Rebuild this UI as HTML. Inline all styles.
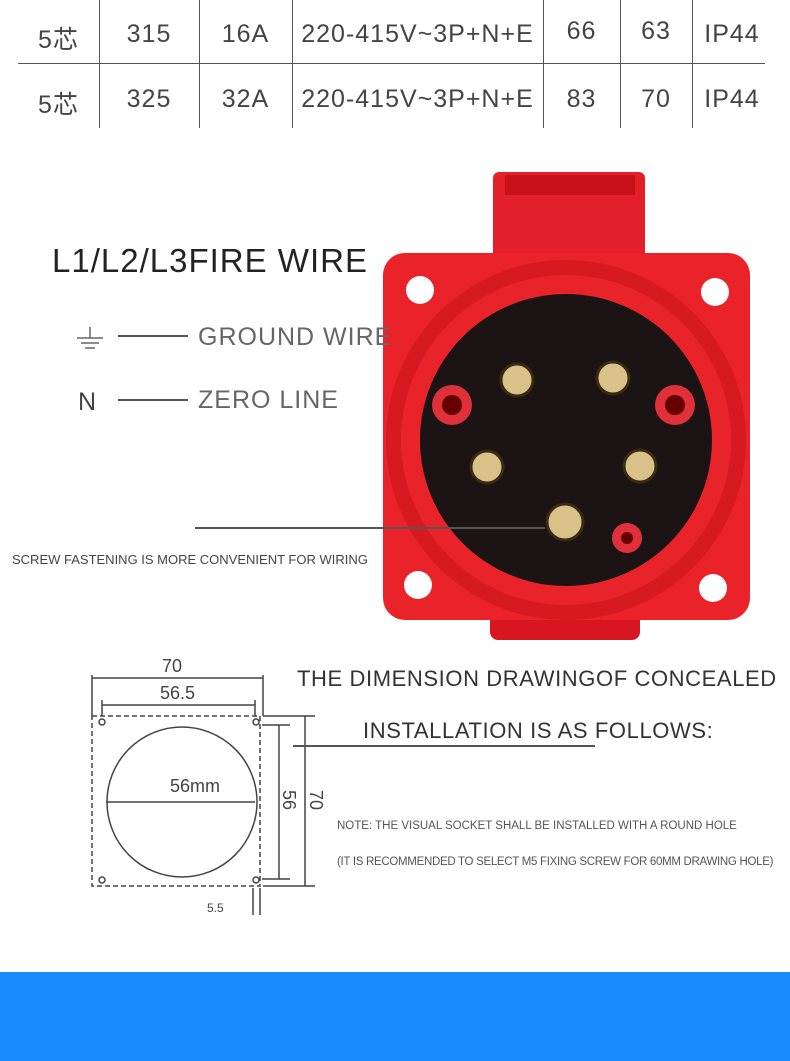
<!DOCTYPE html>
<html><head><meta charset="utf-8"><style>
body{margin:0;width:790px;height:1061px;background:#fff;position:relative;overflow:hidden;font-family:"Liberation Sans","Noto Sans CJK SC",sans-serif;color:#444}
.t{position:absolute;font-size:25px;color:#444;text-align:center;letter-spacing:1px;white-space:nowrap}
.a{position:absolute;white-space:nowrap}
</style></head><body>
<div class="a" style="left:18px;top:63px;width:747px;height:1px;background:#555"></div>
<div class="a" style="left:99px;top:0;width:1px;height:128px;background:#555"></div>
<div class="a" style="left:199px;top:0;width:1px;height:128px;background:#555"></div>
<div class="a" style="left:292px;top:0;width:1px;height:128px;background:#555"></div>
<div class="a" style="left:543px;top:0;width:1px;height:128px;background:#555"></div>
<div class="a" style="left:620px;top:0;width:1px;height:128px;background:#555"></div>
<div class="a" style="left:692px;top:0;width:1px;height:128px;background:#555"></div>
<div class="t" style="left:18px;top:20px;width:81px">5芯</div>
<div class="t" style="left:99px;top:20px;width:100px">315</div>
<div class="t" style="left:199px;top:20px;width:93px">16A</div>
<div class="t" style="left:292px;top:20px;width:251px">220-415V~3P+N+E</div>
<div class="t" style="left:543px;top:17px;width:77px">66</div>
<div class="t" style="left:620px;top:17px;width:72px">63</div>
<div class="t" style="left:692px;top:20px;width:80px">IP44</div>
<div class="t" style="left:18px;top:85px;width:81px">5芯</div>
<div class="t" style="left:99px;top:85px;width:100px">325</div>
<div class="t" style="left:199px;top:85px;width:93px">32A</div>
<div class="t" style="left:292px;top:85px;width:251px">220-415V~3P+N+E</div>
<div class="t" style="left:543px;top:85px;width:77px">83</div>
<div class="t" style="left:620px;top:85px;width:72px">70</div>
<div class="t" style="left:692px;top:85px;width:80px">IP44</div>

<svg class="a" style="left:0;top:0" width="790" height="1061">
<rect x="493" y="172" width="152" height="90" rx="6" fill="#e3202a"/>
<rect x="505" y="175" width="130" height="20" fill="#c8101a"/>
<rect x="490" y="590" width="150" height="50" rx="8" fill="#d8161f"/>
<rect x="383" y="253" width="367" height="367" rx="22" fill="#ea2229"/>
<circle cx="420" cy="290" r="14" fill="#fff"/><circle cx="715" cy="292" r="14" fill="#fff"/>
<circle cx="418" cy="585" r="14" fill="#fff"/><circle cx="713" cy="588" r="14" fill="#fff"/>
<circle cx="566" cy="440" r="180" fill="#d71920"/>
<circle cx="566" cy="440" r="165" fill="#e8232a"/>
<circle cx="566" cy="440" r="146" fill="#1c1414"/>
<g fill="#d9c289" stroke="#3a2a10" stroke-width="3">
<circle cx="517" cy="380" r="16"/><circle cx="613" cy="378" r="16"/>
<circle cx="487" cy="467" r="16"/><circle cx="640" cy="466" r="16"/>
<circle cx="565" cy="522" r="18"/></g>
<g fill="#e0303a"><circle cx="452" cy="405" r="20"/><circle cx="675" cy="405" r="20"/><circle cx="627" cy="538" r="15"/></g>
<g fill="#600"><circle cx="452" cy="405" r="10"/><circle cx="675" cy="405" r="10"/><circle cx="627" cy="538" r="6"/></g>
<line x1="195" y1="528" x2="545" y2="528" stroke="#555" stroke-width="2"/>
<line x1="118" y1="336" x2="188" y2="336" stroke="#555" stroke-width="2"/>
<line x1="118" y1="400" x2="188" y2="400" stroke="#555" stroke-width="2"/>
<g stroke="#666" stroke-width="1.5"><line x1="90" y1="327" x2="90" y2="338"/><line x1="77" y1="338" x2="103" y2="338"/><line x1="81" y1="343" x2="99" y2="343"/><line x1="85" y1="348" x2="95" y2="348"/></g>
<g stroke="#444" stroke-width="1.5" fill="none">
<rect x="92" y="716" width="168" height="170" stroke-dasharray="5,3"/>
<circle cx="182" cy="802" r="75"/>
<line x1="106" y1="802" x2="255" y2="802"/>
<line x1="92" y1="675" x2="92" y2="716"/><line x1="263" y1="675" x2="263" y2="716"/>
<line x1="92" y1="678" x2="263" y2="678"/>
<line x1="102" y1="700" x2="102" y2="716"/><line x1="255" y1="700" x2="255" y2="716"/>
<line x1="102" y1="705" x2="255" y2="705"/>
<line x1="263" y1="716" x2="315" y2="716"/><line x1="263" y1="886" x2="315" y2="886"/>
<line x1="305" y1="716" x2="305" y2="886"/>
<line x1="262" y1="725" x2="290" y2="725"/><line x1="262" y1="879" x2="290" y2="879"/>
<line x1="279" y1="725" x2="279" y2="879"/>
<line x1="253" y1="888" x2="253" y2="915"/><line x1="260" y1="888" x2="260" y2="915"/>
<circle cx="102" cy="722" r="3"/><circle cx="256" cy="722" r="3"/><circle cx="102" cy="880" r="3"/><circle cx="256" cy="880" r="3"/>
</g>
<line x1="293" y1="746" x2="595" y2="746" stroke="#555" stroke-width="2"/>
<text x="162" y="672" font-size="18" fill="#444" font-family="Liberation Sans">70</text>
<text x="160" y="699" font-size="18" fill="#444" font-family="Liberation Sans">56.5</text>
<text x="170" y="792" font-size="18" fill="#444" font-family="Liberation Sans">56mm</text>
<text x="207" y="912" font-size="12" fill="#444" font-family="Liberation Sans">5.5</text>
<text transform="translate(283,790) rotate(90)" font-size="18" fill="#444" font-family="Liberation Sans">56</text>
<text transform="translate(310,790) rotate(90)" font-size="18" fill="#444" font-family="Liberation Sans">70</text>
</svg>
<div class="a" style="left:52px;top:242px;font-size:33px;color:#222;letter-spacing:1px">L1/L2/L3FIRE WIRE</div>
<div class="a" style="left:198px;top:323px;font-size:25px;color:#666;letter-spacing:1px">GROUND WIRE</div>
<div class="a" style="left:78px;top:388px;font-size:25px;color:#444">N</div>
<div class="a" style="left:198px;top:386px;font-size:25px;color:#666;letter-spacing:1px">ZERO LINE</div>
<div class="a" style="left:12px;top:552px;font-size:13px;color:#444">SCREW FASTENING IS MORE CONVENIENT FOR WIRING</div>
<div class="a" style="left:297px;top:666px;font-size:22px;color:#333;letter-spacing:0.6px">THE DIMENSION DRAWINGOF CONCEALED</div>
<div class="a" style="left:363px;top:718px;font-size:22px;color:#333;letter-spacing:0.6px">INSTALLATION IS AS FOLLOWS:</div>
<div class="a" style="left:337px;top:820px;font-size:11.5px;color:#555">NOTE: THE VISUAL SOCKET SHALL BE INSTALLED WITH A ROUND HOLE</div>
<div class="a" style="left:337px;top:856px;font-size:11.5px;color:#555;letter-spacing:-0.3px">(IT IS RECOMMENDED TO SELECT M5 FIXING SCREW FOR 60MM DRAWING HOLE)</div>
<div class="a" style="left:0;top:972px;width:790px;height:89px;background:#1a8cff"></div>
</body></html>
